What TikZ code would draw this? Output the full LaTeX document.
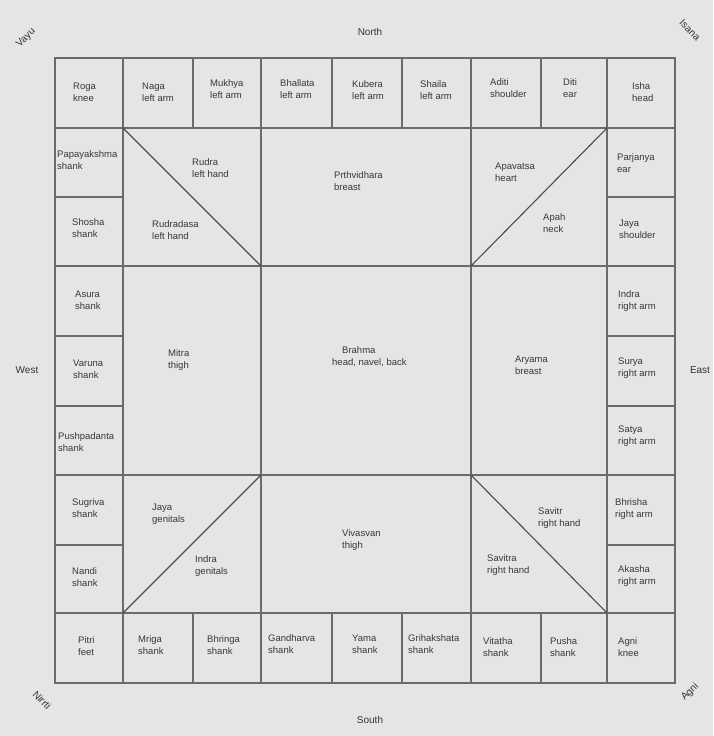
\documentclass[tikz,border=0pt]{standalone}
\usepackage{fontspec}
\setmainfont{Liberation Sans}
\begin{document}
\begin{tikzpicture}[x=1pt,y=-1pt,
  grid/.style={draw=black!58,line width=1.3pt},
  diag/.style={draw=black!70,line width=1.1pt},
  lbl/.style={anchor=west,align=left,text=black!78,font=\fontsize{9.5}{12}\selectfont,inner sep=0pt},
  dir/.style={text=black!80,font=\fontsize{10}{12}\selectfont,inner sep=0pt}]
\fill[black!10] (0,0) rectangle (713,736);
\useasboundingbox (0,0) rectangle (713,736);
% outer frame and main lines
\draw[grid] (55,58) rectangle (675,683);
\draw[grid] (55,128) -- (675,128);
\draw[grid] (55,613) -- (675,613);
\draw[grid] (123,58) -- (123,683);
\draw[grid] (607,58) -- (607,683);
\draw[grid] (55,266) -- (675,266);
\draw[grid] (55,475) -- (675,475);
\draw[grid] (261,58) -- (261,683);
\draw[grid] (471,58) -- (471,683);
\foreach \y in {197,336,406,545}{
  \draw[grid] (55,\y) -- (123,\y);
  \draw[grid] (607,\y) -- (675,\y);}
\foreach \x in {193,332,402,541}{
  \draw[grid] (\x,58) -- (\x,128);
  \draw[grid] (\x,613) -- (\x,683);}
% diagonals
\draw[diag] (123,128) -- (261,266);
\draw[diag] (471,266) -- (607,128);
\draw[diag] (123,613) -- (261,475);
\draw[diag] (471,475) -- (607,613);
% top row
\node[lbl] (roga) at (73,92) {Roga\\knee};
\node[lbl] (naga) at (142,92) {Naga\\left arm};
\node[lbl] (mukhya) at (210,89) {Mukhya\\left arm};
\node[lbl] (bhallata) at (280,89) {Bhallata\\left arm};
\node[lbl] (kubera) at (352,90) {Kubera\\left arm};
\node[lbl] (shaila) at (420,90) {Shaila\\left arm};
\node[lbl] (aditi) at (490,88) {Aditi\\shoulder};
\node[lbl] (diti) at (563,88) {Diti\\ear};
\node[lbl] (isha) at (632,92) {Isha\\head};
% left column
\node[lbl] (papa) at (57,160) {Papayakshma\\shank};
\node[lbl] (shosha) at (72,228) {Shosha\\shank};
\node[lbl] (asura) at (75,300) {Asura\\shank};
\node[lbl] (varuna) at (73,369) {Varuna\\shank};
\node[lbl] (pushpa) at (58,442) {Pushpadanta\\shank};
\node[lbl] (sugriva) at (72,508) {Sugriva\\shank};
\node[lbl] (nandi) at (72,577) {Nandi\\shank};
\node[lbl] (pitri) at (78,646) {Pitri\\feet};
% bottom row
\node[lbl] (mriga) at (138,645) {Mriga\\shank};
\node[lbl] (bhringa) at (207,645) {Bhringa\\shank};
\node[lbl] (gandharva) at (268,644) {Gandharva\\shank};
\node[lbl] (yama) at (352,644) {Yama\\shank};
\node[lbl] (griha) at (408,644) {Grihakshata\\shank};
\node[lbl] (vitatha) at (483,647) {Vitatha\\shank};
\node[lbl] (pusha) at (550,647) {Pusha\\shank};
\node[lbl] (agni) at (618,647) {Agni\\knee};
% right column
\node[lbl] (parjanya) at (617,163) {Parjanya\\ear};
\node[lbl] (jayanta) at (619,229) {Jaya\\shoulder};
\node[lbl] (indra) at (618,301) {Indra\\right arm};
\node[lbl] (surya) at (618,368) {Surya\\right arm};
\node[lbl] (satya) at (618,436) {Satya\\right arm};
\node[lbl] (bhrisha) at (615,509) {Bhrisha\\right arm};
\node[lbl] (akasha) at (618,576) {Akasha\\right arm};
% inner ring
\node[lbl] (rudra) at (192,168) {Rudra\\left hand};
\node[lbl] (rudradasa) at (152,230) {Rudradasa\\left hand};
\node[lbl] (prthvi) at (334,181) {Prthvidhara\\breast};
\node[lbl] (apavatsa) at (495,172) {Apavatsa\\heart};
\node[lbl] (apah) at (543,223) {Apah\\neck};
\node[lbl] (mitra) at (168,360) {Mitra\\thigh};
\node[lbl] (brahma) at (332,357) {\hspace*{10pt}Brahma\\head, navel, back};
\node[lbl] (aryama) at (515,365) {Aryama\\breast};
\node[lbl] (jaya) at (152,514) {Jaya\\genitals};
\node[lbl] (indrag) at (195,566) {Indra\\genitals};
\node[lbl] (vivasvan) at (342,540) {Vivasvan\\thigh};
\node[lbl] (savitr) at (538,518) {Savitr\\right hand};
\node[lbl] (savitra) at (487,565) {Savitra\\right hand};
% directions
\node[dir] (north) at (370,32) {North};
\node[dir] (south) at (370,720) {South};
\node[dir] (west) at (27,370) {West};
\node[dir] (east) at (700,370) {East};
\node[dir,rotate=45] (nw) at (26,38) {Vayu};
\node[dir,rotate=-45] (ne) at (690,30) {Isana};
\node[dir,rotate=-45] (sw) at (42,700) {Nirrti};
\node[dir,rotate=45] (se) at (690,692) {Agni};
\end{tikzpicture}
\end{document}
